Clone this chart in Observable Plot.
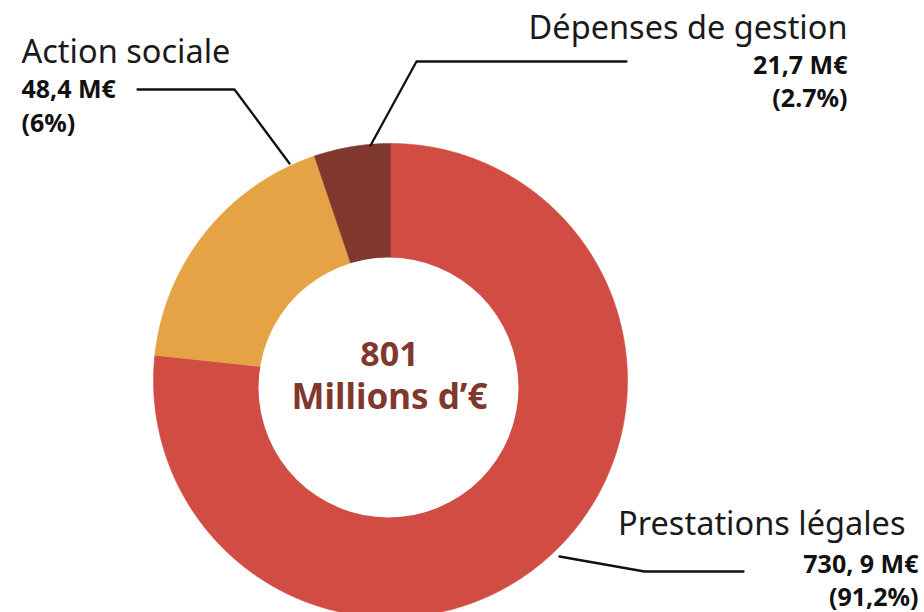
<!DOCTYPE html>
<html>
<head>
<meta charset="utf-8">
<script src="https://cdn.jsdelivr.net/npm/d3@7"></script>
<script src="https://cdn.jsdelivr.net/npm/@observablehq/plot@0.6"></script>
<style>
  html, body { margin: 0; padding: 0; background: #ffffff; }
  #chart svg { display: block; }
</style>
</head>
<body>
<div id="chart"></div>
<script>
// ---- Data ----
const categories = ["Prestations légales", "Action sociale", "Dépenses de gestion"];
// shares of the ring as drawn (percent of the full circle)
const sliceShares = [76.7, 18.1, 5.2];
const amountLabels = ["730, 9 M€", "48,4 M€", "21,7 M€"];
const percentLabels = ["(91,2%)", "(6%)", "(2.7%)"];
const totalValue = "801";
const totalUnit = "Millions d’€";
const sliceColors = ["#d14c43", "#e5a346", "#80382e"];

// ---- Layout (pixels, relative to the ring centre; y points up) ----
const W = 924, H = 612;
const CX = 390, CY = 380;           // ring centre in the page
const R_OUT = 237, R_HOLE = 130;
const toX = px => px - CX;
const toY = py => CY - py;

// slice polygons from d3.pie angles
const arcs = d3.pie().sort(null).value(d => d)(sliceShares);
const slicePoints = [];
arcs.forEach((a, i) => {
  const cat = categories[i];
  slicePoints.push({cat, x: 0, y: 0});
  const n = Math.ceil((a.endAngle - a.startAngle) / 0.004);
  for (let k = 0; k <= n; k++) {
    const t = a.startAngle + (a.endAngle - a.startAngle) * k / n;
    slicePoints.push({cat, x: R_OUT * Math.sin(t), y: R_OUT * Math.cos(t)});
  }
  slicePoints.push({cat, x: 0, y: 0});
});

// label layout per category
const labelLayout = {
  "Prestations légales": {anchor: "end", titleX: 905, numX: 918, base: [534, 572, 605],
    leader: [[559, 556], [644, 571], [743, 571]]},
  "Action sociale": {anchor: "start", titleX: 21, numX: 21, base: [62, 97, 131],
    leader: [[137, 89], [234, 89], [289, 163]]},
  "Dépenses de gestion": {anchor: "end", titleX: 847, numX: 847, base: [38, 73, 106],
    leader: [[370, 145], [416, 61], [626, 61]]}
};

const leaderPoints = [];
categories.forEach(cat => {
  labelLayout[cat].leader.forEach(([px, py]) => leaderPoints.push({cat, x: toX(px), y: toY(py)}));
});

const textFont = "'Noto Sans', sans-serif";
const textMarks = [];
categories.forEach((cat, i) => {
  const L = labelLayout[cat];
  const rows = [
    {text: cat, x: toX(L.titleX), y: toY(L.base[0]), size: 32.5, weight: 400, fill: "#1a1a1a"},
    {text: amountLabels[i], x: toX(L.numX), y: toY(L.base[1]), size: 25, weight: 700, fill: "#111"},
    {text: percentLabels[i], x: toX(L.numX), y: toY(L.base[2]), size: 25, weight: 700, fill: "#111"}
  ];
  rows.forEach(r => {
    textMarks.push(Plot.text([r], {
      x: "x", y: "y", text: "text",
      textAnchor: L.anchor, lineAnchor: "bottom",
      fontSize: r.size, fontWeight: r.weight, fill: r.fill,
      fontFamily: textFont
    }));
  });
});

const chart = Plot.plot({
  width: W,
  height: H,
  margin: 0,
  style: {background: "#ffffff", overflow: "visible"},
  x: {domain: [toX(0), toX(W)], axis: null},
  y: {domain: [toY(H), toY(0)], axis: null},
  color: {domain: categories, range: sliceColors},
  marks: [
    Plot.line(slicePoints, {x: "x", y: "y", z: "cat", fill: "cat", stroke: "cat", strokeWidth: 0.6, curve: "linear"}),
    Plot.dot([{x: toX(388), y: toY(387)}], {x: "x", y: "y", r: R_HOLE, fill: "#ffffff", stroke: null}),
    Plot.line(leaderPoints, {x: "x", y: "y", z: "cat", stroke: "#111", strokeWidth: 2.3, curve: "linear"}),
    Plot.text([{t: totalValue, x: toX(389), y: toY(365)}], {x: "x", y: "y", text: "t", lineAnchor: "bottom",
      fontSize: 34, fontWeight: 700, fill: "#80382e", fontFamily: textFont}),
    Plot.text([{t: totalUnit, x: toX(389), y: toY(408)}], {x: "x", y: "y", text: "t", lineAnchor: "bottom",
      fontSize: 35, fontWeight: 700, fill: "#80382e", fontFamily: textFont}),
    ...textMarks
  ]
});
document.getElementById("chart").appendChild(chart);
</script>
</body>
</html>
